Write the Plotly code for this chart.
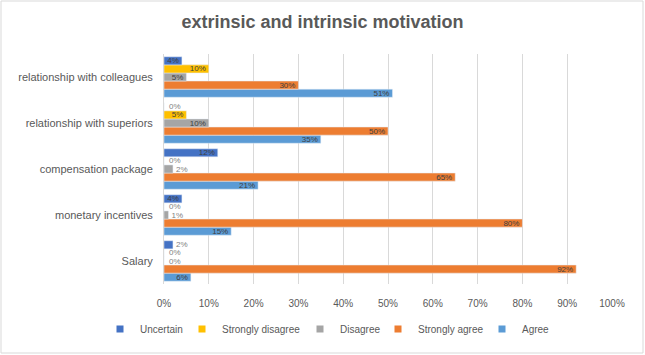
import plotly.graph_objects as go

categories = ["Salary", "monetary incentives", "compensation package",
              "relationship with superiors", "relationship with colleagues"]
agree = [6, 15, 21, 35, 51]
strongly_agree = [92, 80, 65, 50, 30]
disagree = [0, 1, 2, 10, 5]
strongly_disagree = [0, 0, 0, 5, 10]
uncertain = [2, 4, 12, 0, 4]
tick_vals = [0, 10, 20, 30, 40, 50, 60, 70, 80, 90, 100]
tick_text = [f"{v}%" for v in tick_vals]

series = [
    ("Agree", agree, "#5B9BD5"),
    ("Strongly agree", strongly_agree, "#ED7D31"),
    ("Disagree", disagree, "#A5A5A5"),
    ("Strongly disagree", strongly_disagree, "#FFC000"),
    ("Uncertain", uncertain, "#4472C4"),
]
# legend left edge (px) for each entry, in the same order as series
legend_px = [482, 378, 300, 182, 100]

W, H = 645, 355
BARGAP = 0.12
n = len(series)
bar_w = (1 - BARGAP) / n
LABEL_FONT = dict(size=8, family="Liberation Sans, Arial")

fig = go.Figure()
annotations = []
layout_legends = {}
for i, (name, vals, color) in enumerate(series):
    texts = [f"{v}%" if v > 0 else "" for v in vals]
    positions = ["outside" if v < 3 else "inside" for v in vals]
    fig.add_trace(go.Bar(
        y=categories, x=vals, name=name, orientation="h",
        marker=dict(color=color),
        text=texts,
        textposition=positions,
        insidetextanchor="end",
        constraintext="none",
        insidetextfont=dict(color="#404040", **LABEL_FONT),
        outsidetextfont=dict(color="#7F7F7F", **LABEL_FONT),
        cliponaxis=False,
        hoverinfo="skip",
        showlegend=False,
    ))
    lg = "legend" if i == 0 else f"legend{i + 1}"
    fig.add_trace(go.Scatter(
        x=[None], y=[None], mode="markers", name=name,
        marker=dict(symbol="square", size=7, color=color),
        legend=lg, showlegend=True, hoverinfo="skip",
    ))
    layout_legends[lg] = dict(
        xref="container", yref="container",
        x=legend_px[i] / W, xanchor="left", y=1 - 329 / H, yanchor="middle",
        font=dict(size=10, color="#595959"),
        itemwidth=30, bgcolor="rgba(0,0,0,0)", itemsizing="trace",
        itemclick=False, itemdoubleclick=False,
    )
    offset = -(1 - BARGAP) / 2 + bar_w * (i + 0.5)
    for ci, v in enumerate(vals):
        if v == 0:
            annotations.append(dict(
                x=v, y=ci + offset, xref="x", yref="y", text=f"{v}%",
                showarrow=False, xanchor="left", xshift=3,
                font=dict(color="#7F7F7F", **LABEL_FONT)))

fig.update_layout(
    width=W, height=H,
    barmode="group", bargap=BARGAP, bargroupgap=0,
    plot_bgcolor="white", paper_bgcolor="white",
    margin=dict(l=164, r=33, t=54, b=71, autoexpand=False),
    title=dict(text="<b>extrinsic and intrinsic motivation</b>", x=0.5, xanchor="center",
               y=0.938, yanchor="middle",
               font=dict(size=18, color="#595959", family="Liberation Sans, Arial")),
    font=dict(family="Liberation Sans, Arial", color="#595959"),
    xaxis=dict(range=[0, 100], tickvals=tick_vals, ticktext=tick_text,
               showgrid=True, gridcolor="#D9D9D9", zeroline=False,
               tickfont=dict(size=10, color="#595959"), ticks="", ticklen=0,
               ticklabelstandoff=12, automargin=False),
    yaxis=dict(showline=True, linecolor="#D9D9D9", showgrid=False,
               tickfont=dict(size=11, color="#595959"), ticks="",
               ticklabelstandoff=8, automargin=False),
    annotations=annotations,
    shapes=[dict(type="rect", xref="paper", yref="paper",
                 x0=(1 - 164) / 448, x1=(643 - 164) / 448,
                 y0=-(353 - 284) / 230, y1=(284 - 1) / 230,
                 line=dict(color="#D9D9D9", width=1))],
    **layout_legends,
)

fig.write_html("out.html", config={"displayModeBar": False},
               post_script="document.body.style.margin='0';")
